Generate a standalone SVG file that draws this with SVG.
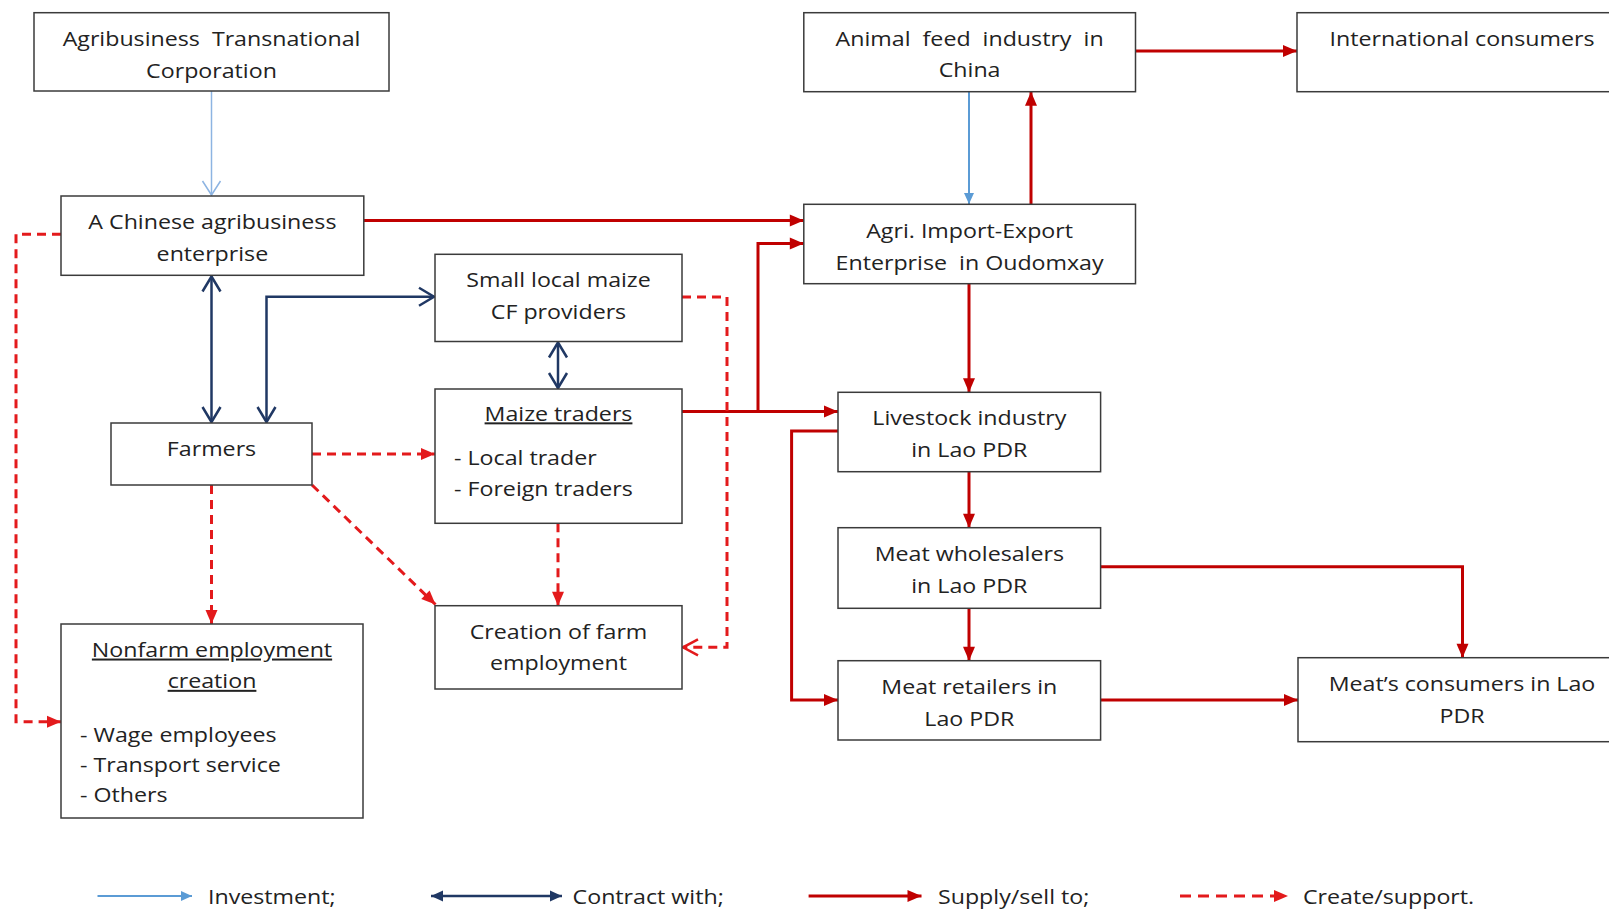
<svg xmlns="http://www.w3.org/2000/svg" width="1609" height="909" viewBox="0 0 1609 909">
<style>
.box{fill:#fff;stroke:#3b3b3b;stroke-width:1.5}
.t{font-family:"Open Sans","Liberation Sans",sans-serif;font-size:20px;fill:#222;text-anchor:middle}
.l{text-anchor:start}
.u{text-decoration:underline}
.red{fill:none;stroke:#c00000;stroke-width:3}
.dash{fill:none;stroke:#e31a1c;stroke-width:3;stroke-dasharray:9 6}
.ldash{fill:none;stroke:#e31a1c;stroke-width:3;stroke-dasharray:11 7}
.navy{fill:none;stroke:#203864;stroke-width:2.5}
.blue{fill:none;stroke:#5b9bd5;stroke-width:2}
.lblue{fill:none;stroke:#8db4e2;stroke-width:1.5}
</style>
<defs>
<marker id="mRed" markerUnits="userSpaceOnUse" markerWidth="16" markerHeight="14" refX="14" refY="6" orient="auto" overflow="visible"><path d="M0,0 L14,6 L0,12 z" fill="#c00000"/></marker>
<marker id="mDash" markerUnits="userSpaceOnUse" markerWidth="16" markerHeight="14" refX="14" refY="6" orient="auto" overflow="visible"><path d="M0,0 L14,6 L0,12 z" fill="#e31a1c"/></marker>
<marker id="mBlue" markerUnits="userSpaceOnUse" markerWidth="14" markerHeight="12" refX="11" refY="5" orient="auto" overflow="visible"><path d="M0,0 L11,5 L0,10 z" fill="#5b9bd5"/></marker>
<marker id="mNavyFill" markerUnits="userSpaceOnUse" markerWidth="14" markerHeight="12" refX="12" refY="5.5" orient="auto-start-reverse" overflow="visible"><path d="M0,0 L12,5.5 L0,11 z" fill="#203864"/></marker>
<marker id="mNavyOpen" markerUnits="userSpaceOnUse" markerWidth="20" markerHeight="20" refX="15" refY="9" orient="auto-start-reverse" overflow="visible"><path d="M0,0 L15,9 L0,18" fill="none" stroke="#203864" stroke-width="2.5"/></marker>
<marker id="mLightOpen" markerUnits="userSpaceOnUse" markerWidth="18" markerHeight="20" refX="14" refY="9" orient="auto" overflow="visible"><path d="M0,0 L14,9 L0,18" fill="none" stroke="#8db4e2" stroke-width="1.5"/></marker>
<marker id="mDashOpen" markerUnits="userSpaceOnUse" markerWidth="18" markerHeight="18" refX="15" refY="8" orient="auto" overflow="visible"><path d="M0,0 L15,8 L0,16" fill="none" stroke="#e31a1c" stroke-width="2.5"/></marker>
</defs>

<g id="connectors">
  <path class="lblue" d="M211.5,91 V195" marker-end="url(#mLightOpen)"/>
  <path class="blue" d="M969,91.7 V204" marker-end="url(#mBlue)"/>
  <path class="navy" d="M211.5,276.5 V422" marker-start="url(#mNavyOpen)" marker-end="url(#mNavyOpen)"/>
  <path class="navy" d="M266.5,422 V296.7 H434" marker-start="url(#mNavyOpen)" marker-end="url(#mNavyOpen)"/>
  <path class="navy" d="M558,342.5 V388" marker-start="url(#mNavyOpen)" marker-end="url(#mNavyOpen)"/>
  <path class="red" d="M363.8,220.5 H803.8" marker-end="url(#mRed)"/>
  <path class="red" d="M1031,204.3 V91.7" marker-end="url(#mRed)"/>
  <path class="red" d="M1135.5,51 H1297" marker-end="url(#mRed)"/>
  <path class="red" d="M682,411.5 H838" marker-end="url(#mRed)"/>
  <path class="red" d="M758,411.5 V243.5 H803.8" marker-end="url(#mRed)"/>
  <path class="red" d="M969,283.7 V392.3" marker-end="url(#mRed)"/>
  <path class="red" d="M969,471.7 V527.7" marker-end="url(#mRed)"/>
  <path class="red" d="M969,608.3 V660.7" marker-end="url(#mRed)"/>
  <path class="red" d="M838,431 H791.6 V700 H838" marker-end="url(#mRed)"/>
  <path class="red" d="M1100.6,566.7 H1462.5 V657.7" marker-end="url(#mRed)"/>
  <path class="red" d="M1100.6,700 H1298" marker-end="url(#mRed)"/>
  <path class="dash" d="M61,234.3 H16 V721.7 H61" marker-end="url(#mDash)"/>
  <path class="dash" d="M312,454 H435" marker-end="url(#mDash)"/>
  <path class="dash" d="M211.5,485 V624" marker-end="url(#mDash)"/>
  <path class="dash" d="M312,485 L435.5,604.5" marker-end="url(#mDash)"/>
  <path class="dash" d="M558,523.3 V605.7" marker-end="url(#mDash)"/>
  <path class="dash" d="M682,297 H727 V647.3 H683" marker-end="url(#mDashOpen)"/>
</g>

<g id="n-agribusiness">
  <rect class="box" x="34" y="12.7" width="355" height="78.3"/>
  <text class="t" xml:space="preserve" transform="translate(211.5,0) scale(1.16,1)"><tspan x="0" y="45.7">Agribusiness  Transnational</tspan><tspan x="0" y="78">Corporation</tspan></text>
</g>
<g id="n-chinese">
  <rect class="box" x="61" y="196" width="302.8" height="79.3"/>
  <text class="t" transform="translate(212.4,0) scale(1.16,1)"><tspan x="0" y="229.3">A Chinese agribusiness</tspan><tspan x="0" y="261.3">enterprise</tspan></text>
</g>
<g id="n-smallmaize">
  <rect class="box" x="435" y="254.3" width="247" height="87.2"/>
  <text class="t" transform="translate(558.5,0) scale(1.16,1)"><tspan x="0" y="287">Small local maize</tspan><tspan x="0" y="319">CF providers</tspan></text>
</g>
<g id="n-traders">
  <rect class="box" x="435" y="389" width="247" height="134.3"/>
  <text class="t u" transform="translate(558.5,420.5) scale(1.16,1)">Maize traders</text>
  <text class="t l" transform="translate(454,0) scale(1.16,1)"><tspan x="0" y="465">- Local trader</tspan><tspan x="0" y="496">- Foreign traders</tspan></text>
</g>
<g id="n-farmers">
  <rect class="box" x="111" y="423" width="201" height="62"/>
  <text class="t" transform="translate(211.5,456.3) scale(1.16,1)">Farmers</text>
</g>
<g id="n-nonfarm">
  <rect class="box" x="61" y="624" width="302" height="194"/>
  <text class="t u" transform="translate(212,0) scale(1.16,1)"><tspan x="0" y="656.7">Nonfarm employment</tspan><tspan x="0" y="688">creation</tspan></text>
  <text class="t l" transform="translate(80,0) scale(1.16,1)"><tspan x="0" y="741.7">- Wage employees</tspan><tspan x="0" y="771.7">- Transport service</tspan><tspan x="0" y="801.7">- Others</tspan></text>
</g>
<g id="n-farmemployment">
  <rect class="box" x="435" y="605.7" width="247" height="83.3"/>
  <text class="t" transform="translate(558.5,0) scale(1.16,1)"><tspan x="0" y="639">Creation of farm</tspan><tspan x="0" y="670.4">employment</tspan></text>
</g>
<g id="n-animalfeed">
  <rect class="box" x="803.8" y="12.7" width="331.7" height="79"/>
  <text class="t" xml:space="preserve" transform="translate(969.6,0) scale(1.16,1)"><tspan x="0" y="45.7">Animal  feed  industry  in</tspan><tspan x="0" y="77.5">China</tspan></text>
</g>
<g id="n-international">
  <rect class="box" x="1297" y="12.7" width="330" height="79"/>
  <text class="t" transform="translate(1462,45.7) scale(1.16,1)">International consumers</text>
</g>
<g id="n-importexport">
  <rect class="box" x="803.8" y="204.3" width="331.7" height="79.4"/>
  <text class="t" xml:space="preserve" transform="translate(969.6,0) scale(1.16,1)"><tspan x="0" y="238">Agri. Import-Export</tspan><tspan x="0" y="270">Enterprise  in Oudomxay</tspan></text>
</g>
<g id="n-livestock">
  <rect class="box" x="838" y="392.3" width="262.6" height="79.4"/>
  <text class="t" transform="translate(969.3,0) scale(1.16,1)"><tspan x="0" y="425.5">Livestock industry</tspan><tspan x="0" y="457">in Lao PDR</tspan></text>
</g>
<g id="n-wholesalers">
  <rect class="box" x="838" y="527.7" width="262.6" height="80.6"/>
  <text class="t" transform="translate(969.3,0) scale(1.16,1)"><tspan x="0" y="561.5">Meat wholesalers</tspan><tspan x="0" y="593.3">in Lao PDR</tspan></text>
</g>
<g id="n-retailers">
  <rect class="box" x="838" y="660.7" width="262.6" height="79.3"/>
  <text class="t" transform="translate(969.3,0) scale(1.16,1)"><tspan x="0" y="694">Meat retailers in</tspan><tspan x="0" y="726">Lao PDR</tspan></text>
</g>
<g id="n-meatconsumers">
  <rect class="box" x="1298" y="657.7" width="330" height="84"/>
  <text class="t" transform="translate(1462,0) scale(1.16,1)"><tspan x="0" y="690.7">Meat’s consumers in Lao</tspan><tspan x="0" y="723">PDR</tspan></text>
</g>

<g id="legend">
  <path class="blue" d="M97.5,896 H192" stroke-width="2.5" marker-end="url(#mBlue)"/>
  <text class="t l" transform="translate(208,903.5) scale(1.16,1)">Investment;</text>
  <path class="navy" d="M431,896 H562" stroke-width="3" marker-start="url(#mNavyFill)" marker-end="url(#mNavyFill)"/>
  <text class="t l" transform="translate(572.6,903.5) scale(1.16,1)">Contract with;</text>
  <path class="red" d="M808.6,896 H921.5" marker-end="url(#mRed)"/>
  <text class="t l" transform="translate(938,903.5) scale(1.16,1)">Supply/sell to;</text>
  <path class="ldash" d="M1180,896 H1288" marker-end="url(#mDash)"/>
  <text class="t l" transform="translate(1303,903.5) scale(1.16,1)">Create/support.</text>
</g>
</svg>
